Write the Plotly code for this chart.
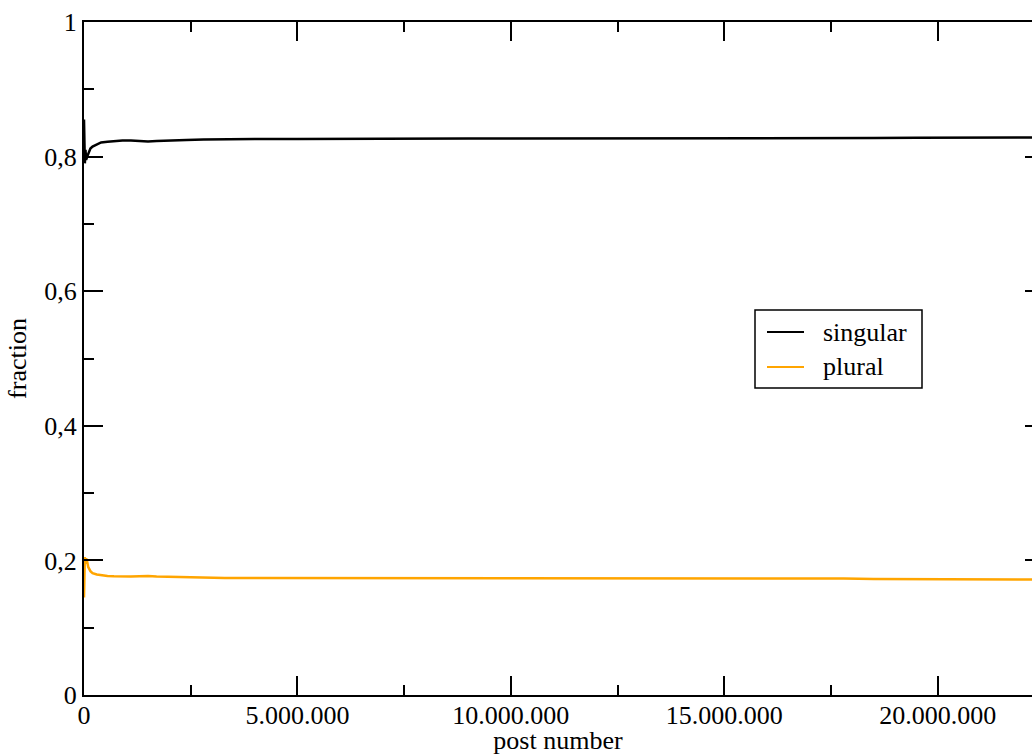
import plotly.graph_objects as go

# Running fraction of singular vs. plural forms by post number
post_number = [0, 4000, 10000, 20000, 35000, 50000, 75000, 100000, 150000, 200000,
               300000, 400000, 550000, 700000, 900000, 1100000, 1300000, 1500000,
               1700000, 2000000, 2400000, 2800000, 3300000, 4000000, 5000000,
               6000000, 7000000, 8000000, 9000000, 10000000, 11000000, 12000000,
               13000000, 14000000, 15000000, 16000000, 17000000, 17800000,
               18500000, 19500000, 20500000, 21500000, 22400000]

singular = [0.855, 0.80, 0.845, 0.79, 0.81, 0.795, 0.80, 0.805, 0.812, 0.815,
            0.818, 0.821, 0.822, 0.823, 0.824, 0.824, 0.823, 0.8225,
            0.823, 0.824, 0.8245, 0.8255, 0.826, 0.826, 0.826,
            0.8265, 0.8265, 0.8265, 0.827, 0.827, 0.827, 0.8265,
            0.8265, 0.8265, 0.8265, 0.8265, 0.8265, 0.827,
            0.8275, 0.828, 0.828, 0.8285, 0.8285]

plural = [0.145, 0.19, 0.16, 0.205, 0.195, 0.203, 0.198, 0.19, 0.184, 0.181,
          0.179, 0.178, 0.177, 0.1765, 0.176, 0.176, 0.1765, 0.177,
          0.176, 0.1755, 0.175, 0.1745, 0.174, 0.174, 0.174,
          0.1735, 0.1735, 0.1735, 0.173, 0.173, 0.173, 0.1735,
          0.1735, 0.1735, 0.1735, 0.1735, 0.1735, 0.173,
          0.1722, 0.172, 0.172, 0.1715, 0.1715]

series_names = ["singular", "plural"]
series_colors = ["black", "#FFA500"]

x_ticks = [0, 5000000, 10000000, 15000000, 20000000]
x_tick_labels = ["0", "5.000.000", "10.000.000", "15.000.000", "20.000.000"]
y_ticks = [0, 0.2, 0.4, 0.6, 0.8, 1.0]
y_tick_labels = ["0", "0,2", "0,4", "0,6", "0,8", "1"]

FONT = "Liberation Serif"
W, H = 1032, 755
ML, MR, MT, MB = 84, 0, 22, 60
PW, PH = W - ML - MR, H - MT - MB


def px_x(px):
    return (px - ML) / PW


def px_y(py):
    return (H - MB - py) / PH


fig = go.Figure()
for vals, name, color in zip([singular, plural], series_names, series_colors):
    fig.add_trace(go.Scatter(x=post_number, y=vals, mode="lines", name=name,
                             showlegend=False,
                             line=dict(color=color, width=2.5)))

# invisible trace that carries the short right-hand ticks
fig.add_trace(go.Scatter(x=[0], y=[0], yaxis="y2", mode="lines",
                         showlegend=False, hoverinfo="skip",
                         line=dict(color="rgba(0,0,0,0)")))

# boxed legend
shapes = [dict(type="rect", xref="paper", yref="paper",
               x0=px_x(755), x1=px_x(922), y0=px_y(388), y1=px_y(310),
               line=dict(color="black", width=1.5), fillcolor="white", layer="above")]
annotations = []
for i, (name, color) in enumerate(zip(series_names, series_colors)):
    row_y = 332 + 35 * i
    shapes.append(dict(type="line", xref="paper", yref="paper",
                       x0=px_x(767), x1=px_x(804), y0=px_y(row_y), y1=px_y(row_y),
                       line=dict(color=color, width=2), layer="above"))
    annotations.append(dict(text=name, xref="paper", yref="paper",
                            x=px_x(821), y=px_y(row_y), xanchor="left", yanchor="middle",
                            showarrow=False, font=dict(family=FONT, size=26, color="black")))

fig.update_layout(
    width=W, height=H,
    margin=dict(l=ML, r=MR, t=MT, b=MB),
    paper_bgcolor="white", plot_bgcolor="white",
    font=dict(family=FONT, size=26, color="black"),
    showlegend=False,
    shapes=shapes,
    annotations=annotations,
    xaxis=dict(range=[0, 22210000], tickvals=x_ticks, ticktext=x_tick_labels,
               showgrid=False, zeroline=False, showline=True, linecolor="black",
               linewidth=2, mirror="ticks", ticks="inside", ticklen=19,
               tickwidth=1.5, tickcolor="black", ticklabelstandoff=-4,
               minor=dict(dtick=2500000, tick0=0, ticks="inside", ticklen=10,
                          tickwidth=1.5, tickcolor="black", showgrid=False),
               title=dict(text="post number", standoff=6,
                          font=dict(family=FONT, size=26))),
    yaxis=dict(range=[0, 1], tickvals=y_ticks, ticktext=y_tick_labels,
               showgrid=False, zeroline=False, showline=True, linecolor="black",
               linewidth=2, mirror=False, ticks="inside", ticklen=19,
               tickwidth=1.5, tickcolor="black",
               minor=dict(dtick=0.1, tick0=0, ticks="inside", ticklen=10,
                          tickwidth=1.5, tickcolor="black", showgrid=False),
               title=dict(text="fraction", standoff=10,
                          font=dict(family=FONT, size=26))),
    yaxis2=dict(range=[0, 1], overlaying="y", side="right", anchor="x",
                tickvals=y_ticks, showticklabels=False, showgrid=False,
                zeroline=False, showline=False, ticks="inside", ticklen=7,
                tickwidth=1.5, tickcolor="black"),
)

fig.write_html("out.html")
